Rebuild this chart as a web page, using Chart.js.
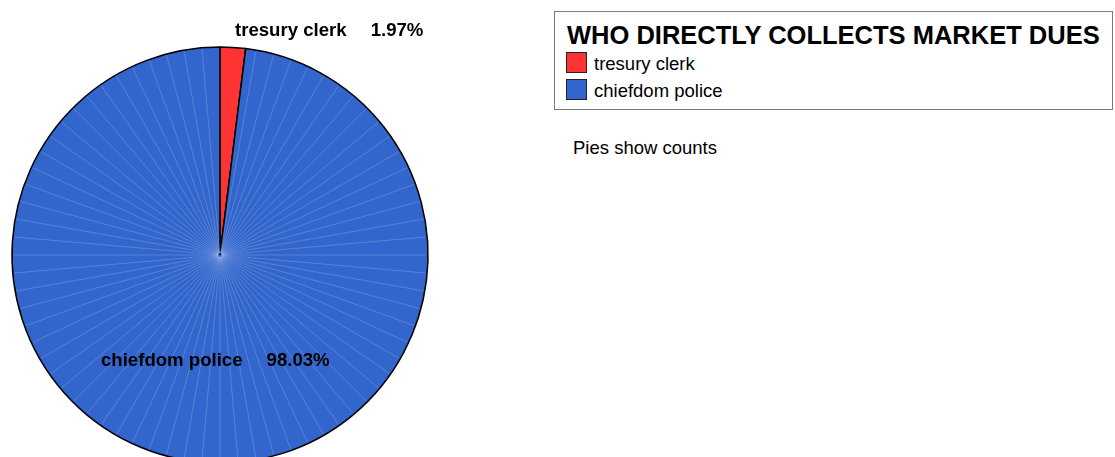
<!DOCTYPE html>
<html>
<head>
<meta charset="utf-8">
<script src="https://cdn.jsdelivr.net/npm/chart.js@4/dist/chart.umd.min.js"></script>
<style>
  html, body { margin: 0; padding: 0; background: #fff; overflow: hidden; width: 1115px; height: 457px; }
  body { position: relative; font-family: "Liberation Sans", Arial, Helvetica, sans-serif; color: #000; }
  #pie { position: absolute; left: 0; top: 0; }
  .abs { position: absolute; white-space: nowrap; line-height: 1; }
  #legendBox { position: absolute; left: 554px; top: 11px; width: 557px; height: 97px; border: 1px solid #7a7a7a; }
  .swatch { position: absolute; width: 19px; height: 19px; border: 1px solid #222; }
</style>
</head>
<body>
<canvas id="pie" width="440" height="510"></canvas>
<div id="legendBox"></div>
<div id="legendTitle" class="abs" style="left:567px; top:23px; font-size:25.5px; font-weight:bold;"></div>
<div id="legendItems"></div>
<div id="footnote" class="abs" style="left:573px; top:138.5px; font-size:18.5px;"></div>
<script>
const categories = ['tresury clerk', 'chiefdom police'];
const percentages = [1.97, 98.03];
const sliceColors = ['#FF3333', '#3366CC'];
const legendTitle = 'WHO DIRECTLY COLLECTS MARKET DUES';
const footnote = 'Pies show counts';

document.getElementById('legendTitle').textContent = legendTitle;
document.getElementById('footnote').textContent = footnote;

// legend entries
const items = document.getElementById('legendItems');
categories.forEach((c, i) => {
  const sw = document.createElement('div');
  sw.className = 'swatch';
  sw.style.left = '566px';
  sw.style.top = (52 + i * 27) + 'px';
  sw.style.background = sliceColors[i];
  items.appendChild(sw);
  const t = document.createElement('div');
  t.className = 'abs';
  t.style.left = '594px';
  t.style.top = (54.5 + i * 27) + 'px';
  t.style.fontSize = '18.5px';
  t.textContent = c;
  items.appendChild(t);
});

// faint seams like the original renderer's polygon fan
const seamPlugin = {
  id: 'seams',
  afterDatasetsDraw(chart) {
    const arcs = chart.getDatasetMeta(0).data;
    const ctx = chart.ctx;
    const cx = arcs[0].x, cy = arcs[0].y, r = arcs[0].outerRadius;
    const step = Math.PI / 36;
    const blue = arcs[1];
    ctx.save();
    ctx.strokeStyle = 'rgba(190,205,245,0.38)';
    ctx.lineWidth = 0.7;
    for (let a = -Math.PI / 2; a < 1.5 * Math.PI; a += step) {
      if (a < blue.startAngle + 0.02 || a > blue.endAngle - 0.02) continue;
      ctx.beginPath();
      ctx.moveTo(cx + Math.cos(a) * 2, cy + Math.sin(a) * 2);
      ctx.lineTo(cx + Math.cos(a) * (r - 1.5), cy + Math.sin(a) * (r - 1.5));
      ctx.stroke();
    }
    ctx.restore();
  }
};

const labelPlugin = {
  id: 'sliceLabels',
  afterDraw(chart) {
    const arcs = chart.getDatasetMeta(0).data;
    const ctx = chart.ctx;
    const cx = arcs[0].x, cy = arcs[0].y;
    const offsets = [[15, -219], [-119, 111]];
    ctx.save();
    ctx.font = 'bold 18.6px "Liberation Sans", Arial, sans-serif';
    ctx.fillStyle = '#000';
    ctx.textBaseline = 'alphabetic';
    ctx.textAlign = 'left';
    categories.forEach((c, i) => {
      const x = cx + offsets[i][0], y = cy + offsets[i][1];
      ctx.fillText(c, x, y);
      const w = ctx.measureText(c).width;
      ctx.fillText(percentages[i].toFixed(2) + '%', x + w + 24, y);
    });
    ctx.restore();
  }
};

new Chart(document.getElementById('pie'), {
  type: 'pie',
  data: {
    labels: categories,
    datasets: [{
      data: percentages,
      backgroundColor: sliceColors,
      borderColor: '#000',
      borderWidth: 1.5
    }]
  },
  options: {
    responsive: false,
    animation: false,
    radius: 208,
    layout: { padding: 0 },
    plugins: { legend: { display: false }, tooltip: { enabled: false } }
  },
  plugins: [seamPlugin, labelPlugin]
});
</script>
</body>
</html>
